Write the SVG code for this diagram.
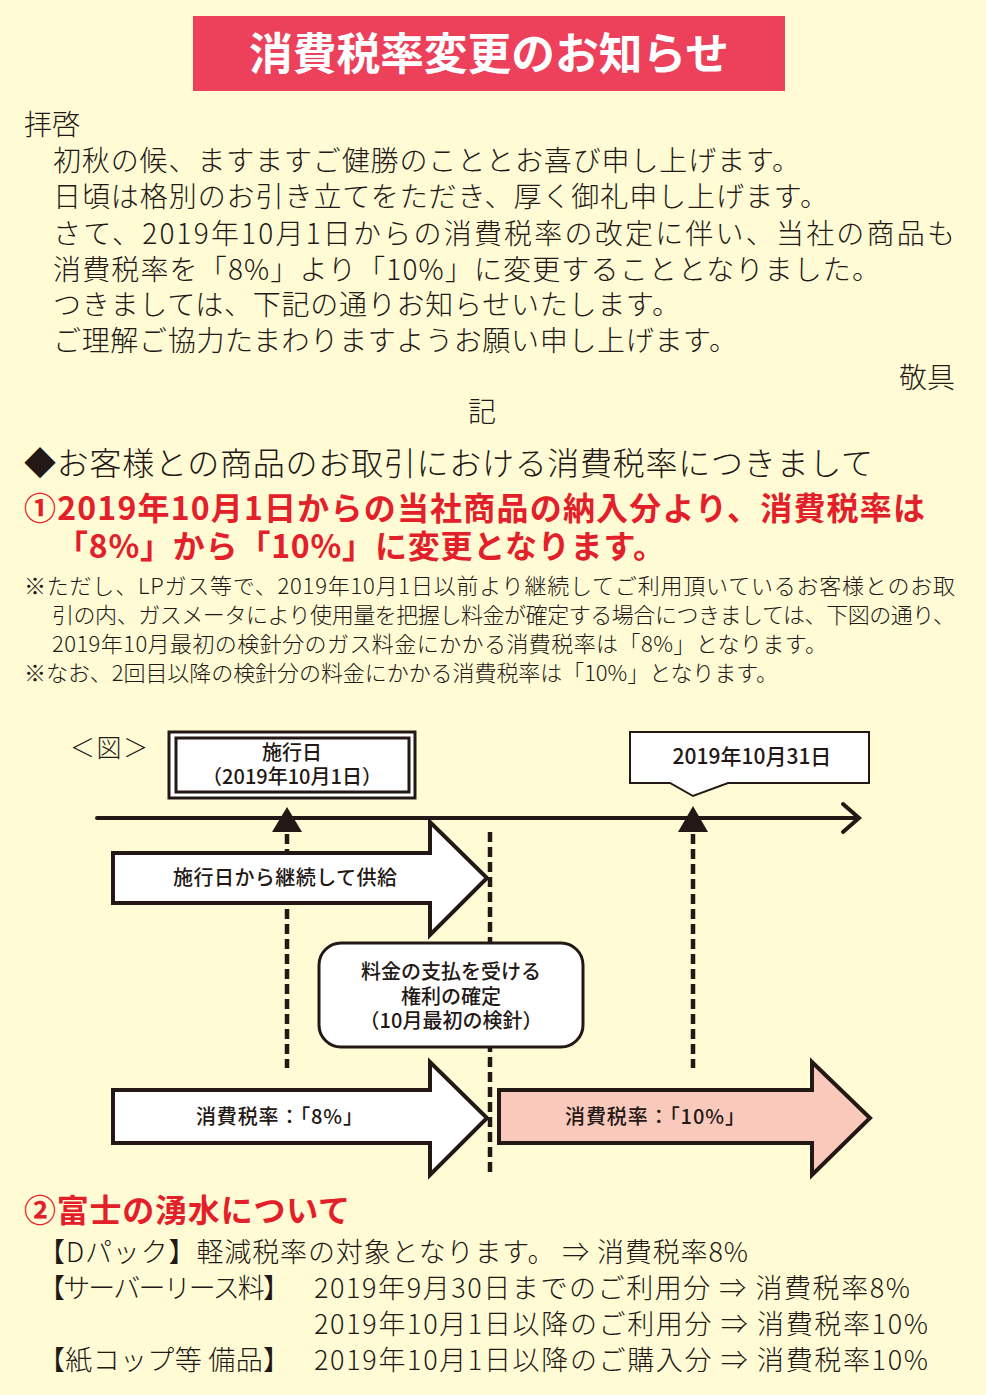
<svg xmlns="http://www.w3.org/2000/svg" width="986" height="1395" viewBox="0 0 986 1395">
<style>
text{font-family:"Noto Sans CJK JP","Noto Sans",sans-serif;fill:#231815}
.body{font-size:28px;font-weight:300}
.note{font-size:22px;font-weight:300}
.h{font-size:32px;font-weight:300}
.red{font-size:32px;font-weight:bold;fill:#E3202A}
.dg{font-size:20px;font-weight:500}
.s2{font-size:27px;font-weight:300}
.box{fill:#fff;stroke:#231815;stroke-width:3}
.arrow{fill:#fff;stroke:#231815;stroke-width:4;stroke-linejoin:miter}
.dash{stroke:#231815;stroke-width:4.5;stroke-dasharray:10 5;fill:none}
</style>
<rect width="986" height="1395" fill="#FFFBD5"/>
<g id="title">
<rect x="193" y="16" width="592" height="75" fill="#EC405B"/>
<text x="489" y="70" text-anchor="middle" style="font-size:44px;font-weight:bold;fill:#fff" textLength="480" lengthAdjust="spacingAndGlyphs">消費税率変更のお知らせ</text>
</g>
<g id="letter">
<text x="24" y="135" class="body">拝啓</text>
<text x="53" y="171" class="body" textLength="747">初秋の候、ますますご健勝のこととお喜び申し上げます。</text>
<text x="53" y="207" class="body" textLength="775">日頃は格別のお引き立てをただき、厚く御礼申し上げます。</text>
<text x="53" y="244" class="body" textLength="902">さて、2019年10月1日からの消費税率の改定に伴い、当社の商品も</text>
<text x="53" y="280" class="body" textLength="827">消費税率を「8%」より「10%」に変更することとなりました。</text>
<text x="53" y="315" class="body" textLength="627">つきましては、下記の通りお知らせいたします。</text>
<text x="53" y="351" class="body" textLength="684">ご理解ご協力たまわりますようお願い申し上げます。</text>
<text x="955" y="388" class="body" text-anchor="end">敬具</text>
<text x="482" y="422" class="body" text-anchor="middle">記</text>
</g>
<g id="section1">
<text x="24" y="475" class="h" textLength="849">◆お客様との商品のお取引における消費税率につきまして</text>
<text x="24" y="520" class="red" textLength="901">①2019年10月1日からの当社商品の納入分より、消費税率は</text>
<text x="56" y="558" class="red" textLength="609">「8%」から「10%」に変更となります。</text>
<text x="24" y="594" class="note" textLength="931">※ただし、LPガス等で、2019年10月1日以前より継続してご利用頂いているお客様とのお取</text>
<text x="52" y="623" class="note" textLength="903">引の内、ガスメータにより使用量を把握し料金が確定する場合につきましては、下図の通り、</text>
<text x="52" y="652" class="note" textLength="775">2019年10月最初の検針分のガス料金にかかる消費税率は「8%」となります。</text>
<text x="24" y="681" class="note" textLength="754">※なお、2回目以降の検針分の料金にかかる消費税率は「10%」となります。</text>
</g>
<g id="fig-label">
<text x="70" y="757" style="font-size:25px;font-weight:300" textLength="78">＜図＞</text>
</g>
<g id="connectors">
<line x1="97" y1="818" x2="857" y2="818" stroke="#231815" stroke-width="4" stroke-linecap="round"/>
<polyline points="843,804 859,818 843,832" fill="none" stroke="#231815" stroke-width="4" stroke-linecap="round"/>
<polygon points="287,807 272,832 302,832" fill="#231815"/>
<polygon points="693,806 678,832 708,832" fill="#231815"/>
<line x1="287" y1="834" x2="287" y2="1068" class="dash"/>
<line x1="693" y1="834" x2="693" y2="1068" class="dash"/>
<line x1="490" y1="832" x2="490" y2="1177" class="dash"/>
</g>
<g id="start-date">
<rect x="169" y="732" width="246" height="66" class="box"/>
<rect x="176" y="738" width="233" height="54" class="box"/>
<text x="292" y="760" class="dg" text-anchor="middle">施行日</text>
<text x="292" y="784" class="dg" text-anchor="middle">（2019年10月1日）</text>
</g>
<g id="end-date">
<path d="M630,732 H869 V783 H728 L693,796 L670,783 H630 Z" fill="#fff" stroke="#231815" stroke-width="2"/>
<text x="752" y="764" class="dg" style="font-size:21px" text-anchor="middle">2019年10月31日</text>
</g>
<g id="supply-arrow">
<path d="M113,853 H430 V822 L487,878 L430,935 V903 H113 Z" class="arrow"/>
<text x="285" y="885" class="dg" text-anchor="middle" textLength="224">施行日から継続して供給</text>
</g>
<g id="billing-box">
<rect x="319" y="943" width="264" height="104" rx="22" class="box" stroke-width="2.5"/>
<text x="451" y="979" class="dg" text-anchor="middle">料金の支払を受ける</text>
<text x="451" y="1004" class="dg" text-anchor="middle">権利の確定</text>
<text x="451" y="1028" class="dg" text-anchor="middle">（10月最初の検針）</text>
</g>
<g id="rate8-arrow">
<path d="M113,1090 H430 V1062 L487,1118 L430,1175 V1143 H113 Z" class="arrow"/>
<text x="196" y="1124" class="dg" textLength="167">消費税率：「8%」</text>
</g>
<g id="rate10-arrow">
<path d="M499,1090 H812 V1062 L870,1118 L812,1175 V1143 H499 Z" class="arrow" style="fill:#F9C9BC"/>
<text x="565" y="1124" class="dg" textLength="180">消費税率：「10%」</text>
</g>
<g id="section2">
<text x="24" y="1222" class="red" textLength="326">②富士の湧水について</text>
<text x="38" y="1262" class="s2" textLength="710">【Dパック】軽減税率の対象となります。 ⇒ 消費税率8%</text>
<text x="38" y="1298" class="s2" textLength="252">【サーバーリース料】</text>
<text x="314" y="1298" class="s2" textLength="596">2019年9月30日までのご利用分 ⇒ 消費税率8%</text>
<text x="314" y="1334" class="s2" textLength="614">2019年10月1日以降のご利用分 ⇒ 消費税率10%</text>
<text x="38" y="1370" class="s2" textLength="252">【紙コップ等 備品】</text>
<text x="314" y="1370" class="s2" textLength="614">2019年10月1日以降のご購入分 ⇒ 消費税率10%</text>
</g>
</svg>
